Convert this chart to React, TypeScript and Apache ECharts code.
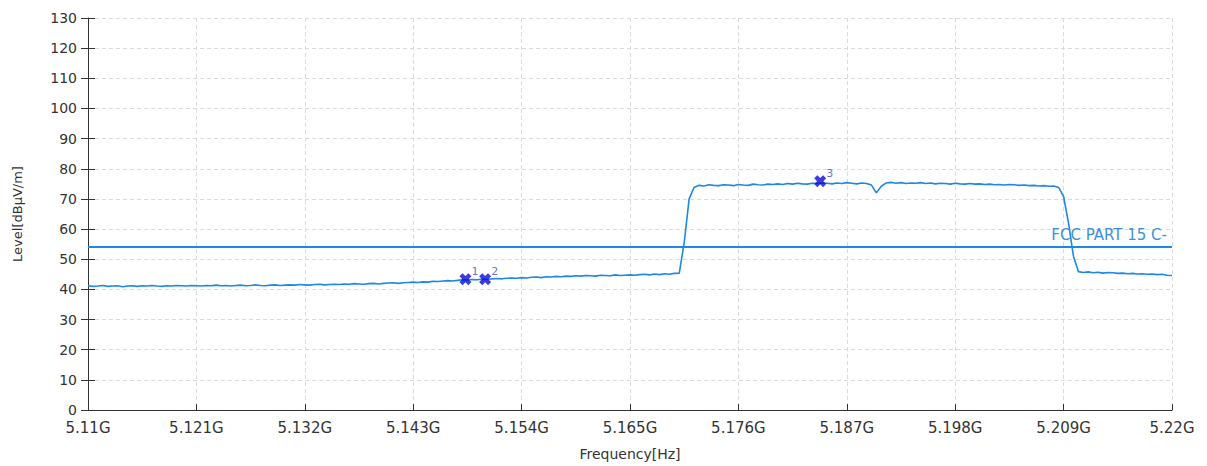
import React, { useEffect, useRef } from "react";
import * as echarts from "echarts";

// Sweep: start frequency and step, in MHz
const startMHz = 5110;
const stepMHz = 0.5;
const spanMHz = 110;
const tickStepMHz = 11;

// Measured level trace [dBµV/m], one value per sweep step
const levels: number[] = [
  41.2, 41.0, 41.1, 41.3, 41.0, 41.1, 41.2, 40.9, 41.1, 41.2,
  41.0, 41.2, 41.1, 41.3, 41.1, 41.0, 41.2, 41.1, 41.3, 41.2,
  41.1, 41.3, 41.2, 41.1, 41.3, 41.2, 41.4, 41.2, 41.3, 41.1,
  41.3, 41.4, 41.2, 41.3, 41.5, 41.3, 41.2, 41.4, 41.5, 41.3,
  41.4, 41.5, 41.4, 41.6, 41.5, 41.4, 41.6, 41.7, 41.5, 41.6,
  41.7, 41.6, 41.8, 41.7, 41.9, 41.8, 41.7, 41.9, 42.0, 41.8,
  42.0, 42.1, 42.2, 42.0, 42.2, 42.3, 42.4, 42.3, 42.5, 42.4,
  42.7, 42.6, 42.8, 42.9, 42.8, 43.0, 43.2, 43.1, 43.3, 43.2,
  43.4, 43.3, 43.5, 43.6, 43.5, 43.7, 43.8, 43.7, 43.9, 43.8,
  44.0, 44.1, 43.9, 44.2, 44.1, 44.3, 44.2, 44.4, 44.3, 44.5,
  44.4, 44.6, 44.5, 44.4, 44.7, 44.6, 44.5, 44.8, 44.6, 44.7,
  44.8, 44.7, 44.9, 45.0, 44.8, 45.1, 44.9, 45.2, 45.0, 45.3,
  45.4, 55.5, 70.0, 73.8, 74.5, 74.3, 74.7, 74.5, 74.4, 74.7,
  74.6, 74.4, 74.8, 74.6, 74.5, 74.9, 74.7, 74.6, 74.9, 74.8,
  75.0, 74.8, 75.1, 74.9, 75.2, 75.0, 74.9, 75.2, 75.1, 75.3,
  75.2, 75.0, 75.3, 75.1, 75.4, 75.2, 75.0, 75.3, 75.1, 74.6,
  72.0, 74.2, 75.3, 75.5, 75.2, 75.4, 75.1, 75.3, 75.2, 75.4,
  75.1, 75.3, 75.0, 75.2, 75.1, 74.9, 75.2, 75.0, 74.9, 75.1,
  74.9, 75.0, 74.8, 74.9, 74.7, 74.8, 74.6, 74.8, 74.7, 74.5,
  74.6, 74.4, 74.5, 74.3, 74.4, 74.2, 74.3, 73.8, 70.8, 62.0,
  51.0, 45.9, 45.6, 45.8, 45.5, 45.7, 45.4, 45.6, 45.5, 45.3,
  45.4, 45.2, 45.3, 45.1, 45.2, 45.0, 45.1, 44.9, 45.0, 44.7,
  44.6,
];

// Limit line
const limitLevel = 54;
const limitName = "FCC PART 15 C-";

// Markers
const markerNames = ["1", "2", "3"];
const markerFreqMHz = [5148.3, 5150.3, 5184.3];
const markerLevels = [43.4, 43.4, 75.9];

// Y axis
const yMin = 0;
const yMax = 130;
const yStep = 10;

const traceColor = "#1e88e5";
const fontFamily = "'DejaVu Sans', Verdana, sans-serif";

const xLabel = (v: number) => {
  const g = (startMHz + v) / 1000;
  return String(Number(g.toFixed(3))) + "G";
};

export default function App() {
  const ref = useRef<HTMLDivElement>(null);

  useEffect(() => {
    document.body.style.margin = "0";
    if (!ref.current) return;
    const chart = echarts.init(ref.current, null, { renderer: "svg" });

    const traceData = levels.map((lv, i) => [i * stepMHz, lv]);
    const markerData = markerNames.map((n, i) => ({
      name: n,
      value: [markerFreqMHz[i] - startMHz, markerLevels[i]],
    }));

    const gridLine = { show: true, lineStyle: { color: "#dadada", type: [4, 3] as any, width: 1 } };

    chart.setOption({
      animation: false,
      backgroundColor: "#ffffff",
      textStyle: { fontFamily },
      grid: { left: 88, right: 35, top: 18, bottom: 56, containLabel: false },
      xAxis: {
        type: "value",
        min: 0,
        max: spanMHz,
        interval: tickStepMHz,
        name: "Frequency[Hz]",
        nameLocation: "middle",
        nameGap: 37,
        nameTextStyle: { color: "#333", fontSize: 14, fontFamily },
        axisLine: { show: true, lineStyle: { color: "#333", width: 1 } },
        axisTick: { show: true, inside: true, length: 6, lineStyle: { color: "#333" } },
        axisLabel: { color: "#333", fontSize: 15, margin: 10, formatter: xLabel, fontFamily },
        splitLine: gridLine,
      },
      yAxis: [
        {
          type: "value",
          min: yMin,
          max: yMax,
          interval: yStep,
          position: "left",
          name: "Level[dBµV/m]",
          nameLocation: "middle",
          nameGap: 64,
          nameTextStyle: { color: "#333", fontSize: 13, fontFamily },
          axisLine: { show: true, lineStyle: { color: "#333", width: 1 } },
          axisTick: { show: true, inside: false, length: 7, lineStyle: { color: "#333" } },
          axisLabel: { color: "#333", fontSize: 14, margin: 11, fontFamily },
          splitLine: gridLine,
        },
        {
          type: "value",
          min: yMin,
          max: yMax,
          interval: yStep,
          position: "left",
          axisLine: { show: false },
          axisTick: { show: true, inside: true, length: 7, lineStyle: { color: "#333" } },
          axisLabel: { show: false },
          splitLine: { show: false },
        },
      ],
      series: [
        {
          type: "line",
          name: "Trace",
          data: traceData,
          showSymbol: false,
          symbol: "none",
          lineStyle: { color: traceColor, width: 1.6 },
          z: 3,
          markLine: {
            silent: true,
            symbol: "none",
            lineStyle: { color: traceColor, width: 2, type: "solid" },
            label: {
              show: true,
              position: "insideEndTop",
              formatter: limitName,
              color: "#3d8fdc",
              fontSize: 15,
              fontFamily,
              distance: [5, 5],
            },
            data: [{ yAxis: limitLevel }],
          },
        },
        {
          type: "scatter",
          name: "Markers",
          data: markerData,
          symbol:
            "path://M0,2.6 L2.6,0 L5,2.4 L7.4,0 L10,2.6 L7.6,5 L10,7.4 L7.4,10 L5,7.6 L2.6,10 L0,7.4 L2.4,5 Z",
          symbolSize: 12,
          itemStyle: { color: "#0a0ad8" },
          label: {
            show: true,
            formatter: (p: any) => p.name,
            position: [12, -7],
            color: "#4a4ac4",
            fontSize: 11,
            fontFamily,
          },
          z: 5,
        },
      ],
    });

    return () => chart.dispose();
  }, []);

  return <div ref={ref} style={{ width: 1207, height: 466 }} />;
}
